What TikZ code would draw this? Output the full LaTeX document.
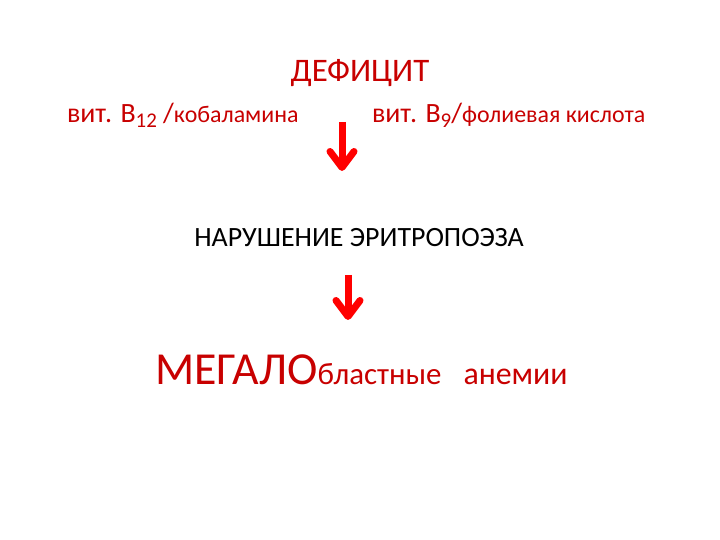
\documentclass[tikz,border=0pt]{standalone}
\usepackage{fontspec}
\setmainfont{Carlito}
\usetikzlibrary{arrows.meta}
\usetikzlibrary{positioning}
\definecolor{deepred}{RGB}{200,0,0}
\definecolor{arrowred}{RGB}{255,0,0}
\newcommand{\fs}[1]{\fontsize{#1}{#1}\selectfont}

\begin{document}
\begin{tikzpicture}[x=1bp,y=1bp,
  lbl/.style={inner sep=0pt,outer sep=0pt},
  downarrow/.style={arrowred,line width=7bp,-{Straight Barb[round,length=16bp,width=24bp]}}]
\useasboundingbox[fill=white] (0,0) rectangle (720,540);

\node[lbl,text=deepred,anchor=base,font=\fs{33}] (deficit) at (360,458) {ДЕФИЦИТ};
\node[lbl,text=deepred,anchor=base west,font=\fs{28}] (b12) at (67,417)
  {вит. B\raisebox{-0.35ex}{\fs{21}12} /{\fs{24}кобаламина}};
\node[lbl,text=deepred,anchor=base west,font=\fs{28}] (b9) at (372,417)
  {вит. B\raisebox{-0.35ex}{\fs{21}9}/{\fs{24}фолиевая кислота}};

\node[lbl,text=black,anchor=base,font=\fs{28}] (erythro) at (359,293) {НАРУШЕНИЕ ЭРИТРОПОЭЗА};

\node[lbl,text=deepred,anchor=base west,font=\fs{46}] (megalo) at (155,155)
  {МЕГАЛО{\fs{31}бластные\hspace{22bp}\fs{32}анемии}};

\coordinate (a1top) at (342,418);
\coordinate (a1tip) at (342,369);
\coordinate (a2top) at (348,265);
\coordinate (a2tip) at (348,220);
\draw[downarrow] (a1top) -- (a1tip);
\draw[downarrow] (a2top) -- (a2tip);

\end{tikzpicture}
\end{document}
